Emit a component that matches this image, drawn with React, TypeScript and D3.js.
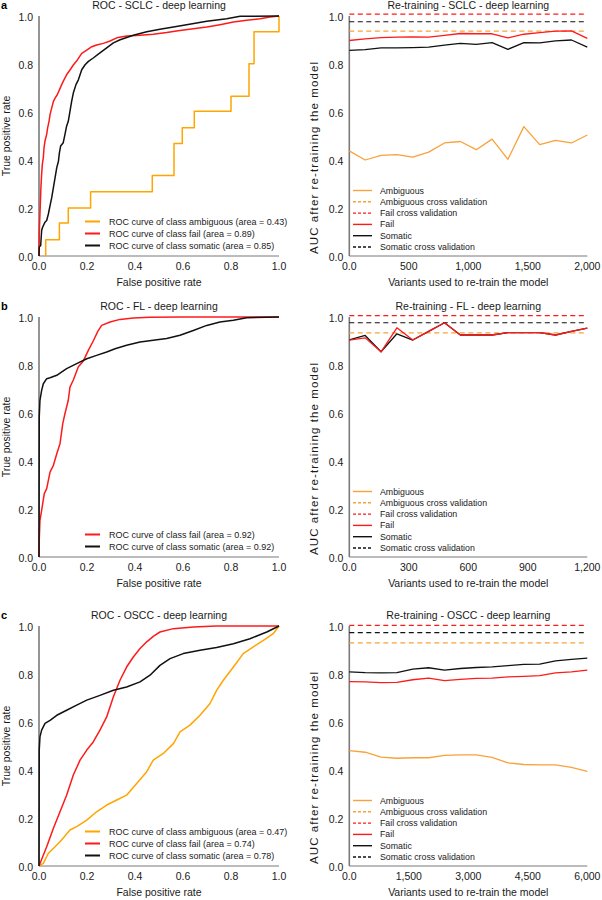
import * as d3 from 'd3';

const FONT = '"Liberation Sans", Arial, Helvetica, sans-serif';
const ORANGE = '#ffa500';
const ORANGE2 = '#f9a23a';
const RED = '#ff1a1a';
const BLACK = '#111111';

// ---- ROC curves (false positive rate / true positive rate) ----
const rocA_ambig_fpr = [0.028, 0.085, 0.122, 0.215, 0.472, 0.5625, 0.597, 0.647, 0.8, 0.875, 0.896, 1.0, 1.0];
const rocA_ambig_tpr = [0, 0.068, 0.137, 0.2, 0.268, 0.335, 0.469, 0.534, 0.603, 0.666, 0.801, 0.934, 1.0];
const rocA_fail_fpr = [0, 0.001, 0.004, 0.006, 0.008, 0.011, 0.014, 0.018, 0.021, 0.025, 0.032, 0.036, 0.042, 0.046, 0.053, 0.06, 0.067, 0.076, 0.085, 0.094, 0.104, 0.115, 0.129, 0.143, 0.16, 0.178, 0.199, 0.22, 0.24, 0.268, 0.296, 0.324, 0.365, 0.421, 0.476, 0.532, 0.587, 0.643, 0.699, 0.754, 0.81, 0.865, 0.921, 0.963, 1];
const rocA_fail_tpr = [0, 0.092, 0.175, 0.23, 0.286, 0.341, 0.383, 0.41, 0.452, 0.479, 0.507, 0.534, 0.562, 0.589, 0.617, 0.644, 0.658, 0.672, 0.692, 0.713, 0.734, 0.755, 0.775, 0.796, 0.817, 0.844, 0.858, 0.872, 0.879, 0.886, 0.896, 0.909, 0.917, 0.92, 0.924, 0.931, 0.94, 0.947, 0.954, 0.964, 0.975, 0.982, 0.989, 0.996, 1];
const rocA_som_fpr = [0, 0.001, 0.007, 0.011, 0.015, 0.025, 0.032, 0.039, 0.046, 0.053, 0.06, 0.067, 0.074, 0.081, 0.085, 0.09, 0.101, 0.108, 0.115, 0.122, 0.129, 0.136, 0.143, 0.154, 0.164, 0.178, 0.192, 0.206, 0.226, 0.254, 0.282, 0.31, 0.338, 0.393, 0.449, 0.504, 0.56, 0.615, 0.699, 0.782, 0.838, 1];
const rocA_som_tpr = [0, 0.037, 0.044, 0.106, 0.12, 0.141, 0.148, 0.175, 0.21, 0.243, 0.285, 0.327, 0.368, 0.395, 0.43, 0.458, 0.472, 0.506, 0.541, 0.561, 0.603, 0.644, 0.679, 0.714, 0.734, 0.776, 0.797, 0.811, 0.825, 0.846, 0.867, 0.888, 0.901, 0.92, 0.934, 0.945, 0.954, 0.964, 0.978, 0.989, 0.999, 1];

const rocB_fail_fpr = [0, 0.001, 0.004, 0.011, 0.022, 0.032, 0.046, 0.06, 0.074, 0.0875, 0.099, 0.108, 0.122, 0.129, 0.143, 0.164, 0.185, 0.205, 0.226, 0.245, 0.261, 0.296, 0.3375, 0.393, 0.4625, 0.6, 1];
const rocB_fail_tpr = [0, 0.07, 0.153, 0.194, 0.264, 0.285, 0.354, 0.382, 0.43, 0.472, 0.556, 0.597, 0.653, 0.708, 0.7375, 0.793, 0.817, 0.86, 0.9, 0.94, 0.965, 0.979, 0.99, 0.996, 0.999, 1, 1];
const rocB_som_fpr = [0, 0.001, 0.004, 0.011, 0.018, 0.032, 0.046, 0.074, 0.115, 0.157, 0.199, 0.24, 0.282, 0.317, 0.365, 0.421, 0.476, 0.532, 0.5875, 0.643, 0.699, 0.754, 0.81, 0.865, 1];
const rocB_som_tpr = [0, 0.583, 0.653, 0.694, 0.722, 0.743, 0.747, 0.757, 0.785, 0.806, 0.826, 0.84, 0.854, 0.868, 0.882, 0.896, 0.903, 0.91, 0.924, 0.944, 0.965, 0.979, 0.986, 0.997, 1];

const rocC_ambig_fpr = [0, 0.018, 0.039, 0.067, 0.094, 0.129, 0.157, 0.199, 0.24, 0.282, 0.324, 0.365, 0.407, 0.449, 0.476, 0.518, 0.56, 0.5875, 0.629, 0.671, 0.7125, 0.74, 0.768, 0.81, 0.851, 0.893, 0.935, 0.976, 1];
const rocC_ambig_tpr = [0, 0.011, 0.053, 0.08, 0.108, 0.15, 0.164, 0.191, 0.226, 0.254, 0.275, 0.295, 0.344, 0.393, 0.441, 0.469, 0.51, 0.559, 0.587, 0.628, 0.677, 0.732, 0.774, 0.829, 0.885, 0.913, 0.94, 0.968, 1];
const rocC_fail_fpr = [0, 0.032, 0.06, 0.0875, 0.115, 0.143, 0.171, 0.199, 0.226, 0.254, 0.282, 0.31, 0.3375, 0.365, 0.393, 0.421, 0.449, 0.476, 0.504, 0.56, 0.643, 0.74, 1];
const rocC_fail_tpr = [0, 0.08, 0.157, 0.226, 0.295, 0.379, 0.441, 0.483, 0.517, 0.566, 0.621, 0.705, 0.774, 0.829, 0.871, 0.906, 0.934, 0.957, 0.975, 0.989, 0.996, 1, 1];
const rocC_som_fpr = [0, 0.001, 0.004, 0.011, 0.025, 0.046, 0.074, 0.115, 0.157, 0.199, 0.254, 0.31, 0.365, 0.421, 0.4625, 0.504, 0.546, 0.601, 0.671, 0.74, 0.81, 0.879, 0.949, 1];
const rocC_som_tpr = [0, 0.483, 0.538, 0.566, 0.594, 0.607, 0.628, 0.649, 0.67, 0.691, 0.711, 0.732, 0.746, 0.767, 0.795, 0.836, 0.864, 0.885, 0.899, 0.91, 0.926, 0.947, 0.975, 1];

// ---- re-training AUC ----
const retrainA_variants = [0, 133, 267, 400, 533, 667, 800, 933, 1067, 1200, 1333, 1467, 1600, 1733, 1867, 2000];
const retrainA_ambig = [0.438, 0.4, 0.419, 0.422, 0.412, 0.433, 0.471, 0.477, 0.443, 0.487, 0.403, 0.539, 0.464, 0.482, 0.471, 0.504];
const retrainA_fail = [0.898, 0.905, 0.91, 0.912, 0.913, 0.912, 0.919, 0.927, 0.926, 0.926, 0.909, 0.924, 0.931, 0.937, 0.938, 0.907];
const retrainA_som = [0.857, 0.86, 0.867, 0.867, 0.868, 0.87, 0.879, 0.886, 0.882, 0.889, 0.861, 0.889, 0.888, 0.896, 0.9, 0.87];
const cvA = { ambig: 0.937, fail: 1.008, som: 0.976 };

const retrainB_variants = [0, 80, 160, 240, 320, 400, 480, 560, 640, 720, 800, 880, 960, 1040, 1120, 1200];
const retrainB_fail = [0.904, 0.913, 0.855, 0.955, 0.904, 0.94, 0.976, 0.925, 0.925, 0.925, 0.935, 0.935, 0.935, 0.925, 0.94, 0.954];
const retrainB_som = [0.905, 0.923, 0.855, 0.93, 0.904, 0.94, 0.976, 0.925, 0.925, 0.925, 0.935, 0.935, 0.935, 0.925, 0.94, 0.954];
const cvB = { ambig: 0.934, fail: 1.006, som: 0.976 };

const retrainC_variants = [0, 400, 800, 1200, 1600, 2000, 2400, 2800, 3200, 3600, 4000, 4400, 4800, 5200, 5600, 6000];
const retrainC_ambig = [0.481, 0.474, 0.454, 0.449, 0.451, 0.451, 0.461, 0.463, 0.463, 0.453, 0.43, 0.423, 0.421, 0.421, 0.411, 0.394];
const retrainC_fail = [0.768, 0.767, 0.764, 0.765, 0.776, 0.783, 0.772, 0.778, 0.782, 0.783, 0.788, 0.79, 0.793, 0.805, 0.809, 0.816];
const retrainC_som = [0.809, 0.806, 0.805, 0.806, 0.82, 0.826, 0.816, 0.823, 0.827, 0.83, 0.835, 0.84, 0.841, 0.855, 0.861, 0.866];
const cvC = { ambig: 0.93, fail: 1.003, som: 0.972 };

const yTicks = [0, 0.2, 0.4, 0.6, 0.8, 1.0];
const rocXTicks = [0, 0.2, 0.4, 0.6, 0.8, 1.0];
const xTicksA = [0, 500, 1000, 1500, 2000];
const xTicksB = [0, 300, 600, 900, 1200];
const xTicksC = [0, 1500, 3000, 4500, 6000];

const retrainLegend = [
  { label: 'Ambiguous', color: ORANGE2, dash: null },
  { label: 'Ambiguous cross validation', color: ORANGE2, dash: '3,2' },
  { label: 'Fail cross validation', color: RED, dash: '3,2' },
  { label: 'Fail', color: RED, dash: null },
  { label: 'Somatic', color: BLACK, dash: null },
  { label: 'Somatic cross validation', color: BLACK, dash: '3,2' },
];

const zip = (a: number[], b: number[]) => a.map((v, i) => [v, b[i]] as [number, number]);
const fmtY = d3.format('.1f');
const fmtX = (v: number) => (v === 0 ? '0.0' : d3.format(',')(v));

const PLOT_H = 240;
const TITLE_OFF = 250.5;

function Axes({ x, y, bottom, xTicks, xFmt, yLabel, xLabel, labelX, title, wideLabel }: any) {
  const [x0, x1] = x.range();
  return (
    <g fontFamily={FONT} fill="#1a1a1a">
      <text x={(x0 + x1) / 2} y={bottom - TITLE_OFF} dy="0.35em" fontSize={10.5} textAnchor="middle">{title}</text>
      <line x1={x0} x2={x1} y1={bottom} y2={bottom} stroke="#555" strokeWidth={0.8} />
      <line x1={x0} x2={x0} y1={bottom} y2={y(1)} stroke="#7a7a7a" strokeWidth={1.6} />
      {yTicks.map(t => (
        <text key={'y' + t} x={x0 - 6} y={y(t) + 1} dy="0.35em" fontSize={10.5} textAnchor="end">{fmtY(t)}</text>
      ))}
      {xTicks.map((t: number) => (
        <text key={'x' + t} x={x(t)} y={bottom + 10} dy="0.35em" fontSize={10.5} textAnchor="middle">{xFmt(t)}</text>
      ))}
      <text x={(x0 + x1) / 2} y={bottom + 26.5} dy="0.35em" fontSize={10.5} textAnchor="middle">{xLabel}</text>
      {wideLabel ? (
        <text transform={`translate(${labelX},${bottom - 98}) rotate(-90)`} dy="0.35em" fontSize={11.5}
          textAnchor="middle" textLength={192} lengthAdjust="spacing">{yLabel}</text>
      ) : (
        <text transform={`translate(${labelX},${bottom - PLOT_H / 2}) rotate(-90)`} dy="0.35em" fontSize={10.5} textAnchor="middle">{yLabel}</text>
      )}
    </g>
  );
}

function RocPanel({ bottom, title, curves, letter }: any) {
  const x = d3.scaleLinear().domain([0, 1]).range([39, 279]);
  const y = d3.scaleLinear().domain([0, 1]).range([bottom, bottom - PLOT_H]);
  const line = d3.line<[number, number]>().x(d => x(d[0])).y(d => y(d[1]));
  const n = curves.length;
  return (
    <g>
      <text x={1} y={bottom - TITLE_OFF} dy="0.35em" fontFamily={FONT} fontWeight="bold" fontSize={11}>{letter}</text>
      <Axes x={x} y={y} bottom={bottom} xTicks={rocXTicks} xFmt={fmtY} title={title}
        xLabel="False positive rate" yLabel="True positive rate" labelX={6} />
      {curves.map((c: any, i: number) => (
        <path key={i} d={(c.step ? line.curve(d3.curveStepBefore) : line.curve(d3.curveLinear))(zip(c.fpr, c.tpr)) || ''}
          fill="none" stroke={c.color} strokeWidth={1.5} strokeLinejoin="round" />
      ))}
      {curves.map((c: any, i: number) => {
        const ly = bottom - 10.5 - (n - 1 - i) * 12;
        return (
          <g key={'l' + i}>
            <line x1={85} x2={100} y1={ly} y2={ly} stroke={c.color} strokeWidth={2} />
            <text x={109} y={ly} dy="0.35em" fontFamily={FONT} fontSize={9} fill="#1a1a1a">{c.label}</text>
          </g>
        );
      })}
    </g>
  );
}

function RetrainPanel({ bottom, title, variants, xTicks, series, cv }: any) {
  const x = d3.scaleLinear().domain([0, d3.max(variants) as number]).range([349.3, 587.3]);
  const y = d3.scaleLinear().domain([0, 1]).range([bottom, bottom - PLOT_H]);
  const line = d3.line<[number, number]>().x(d => x(d[0])).y(d => y(d[1]));
  const [x0, x1] = x.range();
  const cvLines = [
    { v: cv.ambig, color: ORANGE2 },
    { v: cv.som, color: BLACK },
    { v: cv.fail, color: RED },
  ];
  return (
    <g>
      <Axes x={x} y={y} bottom={bottom} xTicks={xTicks} xFmt={fmtX} title={title} wideLabel
        xLabel="Variants used to re-train the model" yLabel="AUC after re-training the model" labelX={314} />
      {cvLines.map((c, i) => (
        <line key={'cv' + i} x1={x0} x2={x1} y1={y(c.v)} y2={y(c.v)} stroke={c.color} strokeWidth={1.2} strokeDasharray="5,3.5" />
      ))}
      {series.map((s: any, i: number) => (
        <path key={i} d={line(zip(variants, s.values)) || ''} fill="none" stroke={s.color} strokeWidth={1.3} strokeLinejoin="round" />
      ))}
      {retrainLegend.map((e, i) => {
        const ly = bottom - 9 - (retrainLegend.length - 1 - i) * 11.3;
        return (
          <g key={'l' + i}>
            <line x1={353} x2={372} y1={ly} y2={ly} stroke={e.color} strokeWidth={1.4} strokeDasharray={e.dash || undefined} />
            <text x={380} y={ly} dy="0.35em" fontFamily={FONT} fontSize={8.8} fill="#1a1a1a">{e.label}</text>
          </g>
        );
      })}
    </g>
  );
}

export default function App() {
  return (
    <svg width={602} height={900} style={{ position: 'absolute', left: 0, top: 0, background: '#fff' }}>
      <RocPanel bottom={256} letter="a" title="ROC - SCLC - deep learning" curves={[
        { fpr: rocA_ambig_fpr, tpr: rocA_ambig_tpr, color: ORANGE, step: true, label: 'ROC curve of class ambiguous (area = 0.43)' },
        { fpr: rocA_fail_fpr, tpr: rocA_fail_tpr, color: RED, label: 'ROC curve of class fail (area = 0.89)' },
        { fpr: rocA_som_fpr, tpr: rocA_som_tpr, color: BLACK, label: 'ROC curve of class somatic (area = 0.85)' },
      ]} />
      <RetrainPanel bottom={256} title="Re-training - SCLC - deep learning" variants={retrainA_variants} xTicks={xTicksA} cv={cvA} series={[
        { values: retrainA_ambig, color: ORANGE2 },
        { values: retrainA_som, color: BLACK },
        { values: retrainA_fail, color: RED },
      ]} />
      <RocPanel bottom={557} letter="b" title="ROC - FL - deep learning" curves={[
        { fpr: rocB_fail_fpr, tpr: rocB_fail_tpr, color: RED, label: 'ROC curve of class fail (area = 0.92)' },
        { fpr: rocB_som_fpr, tpr: rocB_som_tpr, color: BLACK, label: 'ROC curve of class somatic (area = 0.92)' },
      ]} />
      <RetrainPanel bottom={557} title="Re-training - FL - deep learning" variants={retrainB_variants} xTicks={xTicksB} cv={cvB} series={[
        { values: retrainB_som, color: BLACK },
        { values: retrainB_fail, color: RED },
      ]} />
      <RocPanel bottom={866} letter="c" title="ROC - OSCC - deep learning" curves={[
        { fpr: rocC_ambig_fpr, tpr: rocC_ambig_tpr, color: ORANGE, label: 'ROC curve of class ambiguous (area = 0.47)' },
        { fpr: rocC_fail_fpr, tpr: rocC_fail_tpr, color: RED, label: 'ROC curve of class fail (area = 0.74)' },
        { fpr: rocC_som_fpr, tpr: rocC_som_tpr, color: BLACK, label: 'ROC curve of class somatic (area = 0.78)' },
      ]} />
      <RetrainPanel bottom={866} title="Re-training - OSCC - deep learning" variants={retrainC_variants} xTicks={xTicksC} cv={cvC} series={[
        { values: retrainC_ambig, color: ORANGE2 },
        { values: retrainC_som, color: BLACK },
        { values: retrainC_fail, color: RED },
      ]} />
    </svg>
  );
}
